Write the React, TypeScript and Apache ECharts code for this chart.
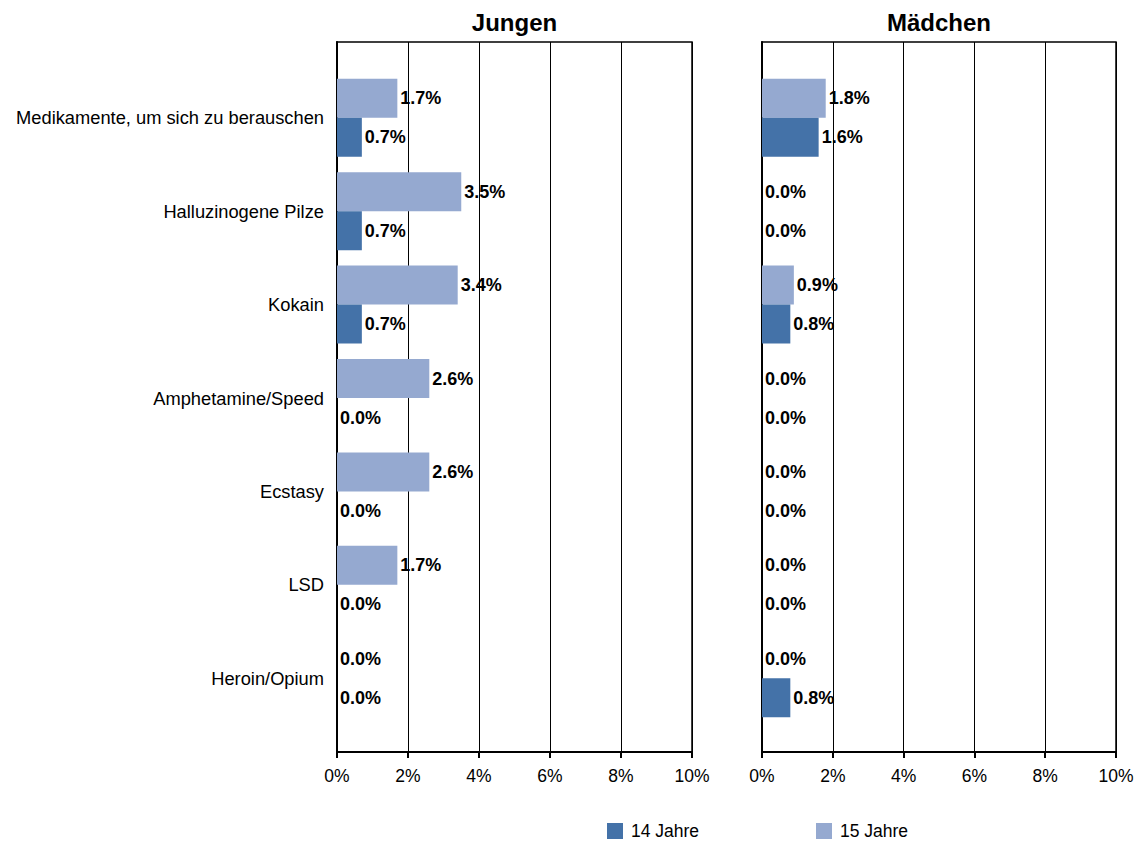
import React, { useEffect, useRef } from "react";
import * as echarts from "echarts";

const categories = [
  "Medikamente, um sich zu berauschen",
  "Halluzinogene Pilze",
  "Kokain",
  "Amphetamine/Speed",
  "Ecstasy",
  "LSD",
  "Heroin/Opium",
];
const panels = ["Jungen", "Mädchen"];
const seriesNames = ["14 Jahre", "15 Jahre"];
const jungen14 = [0.7, 0.7, 0.7, 0.0, 0.0, 0.0, 0.0];
const jungen15 = [1.7, 3.5, 3.4, 2.6, 2.6, 1.7, 0.0];
const maedchen14 = [1.6, 0.0, 0.8, 0.0, 0.0, 0.0, 0.8];
const maedchen15 = [1.8, 0.0, 0.9, 0.0, 0.0, 0.0, 0.0];
const tickValues = [0, 2, 4, 6, 8, 10];

const COLOR14 = "#4472A8";
const COLOR15 = "#95A9D0";
const FONT = "Liberation Sans, Arial, sans-serif";

export default function App() {
  const ref = useRef<HTMLDivElement>(null);
  useEffect(() => {
    if (!ref.current) return;
    const chart = echarts.init(ref.current, undefined, { renderer: "svg" });
    const panelLeft = [337, 762];
    const panelWidth = [355, 354];
    const grids: any[] = [];
    const xAxes: any[] = [];
    const yAxes: any[] = [];
    const series: any[] = [];
    const labelCfg = {
      show: true,
      position: "right",
      distance: 3,
      fontFamily: FONT,
      fontWeight: "bold",
      fontSize: 18,
      color: "#000",
      formatter: (p: any) => Number(p.value).toFixed(1) + "%",
    };
    panelLeft.forEach((left, i) => {
      grids.push({
        left,
        top: 42,
        width: panelWidth[i],
        height: 710,
        show: true,
        borderColor: "#000",
        borderWidth: 1.5,
        backgroundColor: "transparent",
      });
      grids.push({ left, top: 71, width: panelWidth[i], height: 654 });
      xAxes.push({
        gridIndex: 2 * i,
        type: "value",
        min: tickValues[0],
        max: tickValues[tickValues.length - 1],
        interval: 2,
        axisLine: { show: true, lineStyle: { color: "#000", width: 2 } },
        axisTick: { show: true, length: 6, lineStyle: { color: "#000", width: 2 } },
        splitLine: { show: true, lineStyle: { color: "#000", width: 1 } },
        axisLabel: {
          formatter: "{value}%",
          fontFamily: FONT,
          fontSize: 17.5,
          color: "#000",
          margin: 15,
        },
      });
      xAxes.push({
        gridIndex: 2 * i + 1,
        type: "value",
        min: 0,
        max: 10,
        show: false,
      });
      yAxes.push({
        gridIndex: 2 * i,
        type: "value",
        min: 0,
        max: 1,
        axisLine: { show: true, lineStyle: { color: "#000", width: 2 } },
        axisTick: { show: false },
        axisLabel: { show: false },
        splitLine: { show: false },
      });
      yAxes.push({
        gridIndex: 2 * i + 1,
        type: "category",
        data: categories,
        inverse: true,
        axisLine: { show: false },
        axisTick: { show: false },
        splitLine: { show: false },
        axisLabel: {
          show: i === 0,
          fontFamily: FONT,
          fontSize: 18.3,
          color: "#000",
          margin: 13,
          padding: [4, 0, 0, 0],
        },
      });
      const d14 = i === 0 ? jungen14 : maedchen14;
      const d15 = i === 0 ? jungen15 : maedchen15;
      series.push({
        name: seriesNames[1],
        type: "bar",
        xAxisIndex: 2 * i + 1,
        yAxisIndex: 2 * i + 1,
        data: d15,
        barWidth: 39,
        barGap: "0%",
        itemStyle: { color: COLOR15 },
        label: labelCfg,
      });
      series.push({
        name: seriesNames[0],
        type: "bar",
        xAxisIndex: 2 * i + 1,
        yAxisIndex: 2 * i + 1,
        data: d14,
        barWidth: 39,
        barGap: "0%",
        itemStyle: { color: COLOR14 },
        label: labelCfg,
      });
    });

    const legendBase = {
      orient: "horizontal",
      top: 822,
      padding: 0,
      itemWidth: 16,
      itemHeight: 16,
      icon: "rect",
      selectedMode: false,
      textStyle: { fontFamily: FONT, fontSize: 17.5, color: "#000", padding: [0, 0, 0, 3] },
    };

    chart.setOption({
      animation: false,
      backgroundColor: "#fff",
      grid: grids,
      xAxis: xAxes,
      yAxis: yAxes,
      series,
      legend: [
        { ...legendBase, left: 607, data: [seriesNames[0]] },
        { ...legendBase, left: 816, data: [seriesNames[1]] },
      ],
      graphic: panels.map((t, i) => ({
        type: "text",
        x: panelLeft[i] + panelWidth[i] / 2,
        y: 22,
        style: {
          text: t,
          font: `bold 24px ${FONT}`,
          fill: "#000",
          textAlign: "center",
          textVerticalAlign: "middle",
        },
      })),
    });
    return () => chart.dispose();
  }, []);
  return (
    <div
      ref={ref}
      style={{ position: "absolute", left: 0, top: 0, width: 1139, height: 841 }}
    />
  );
}
